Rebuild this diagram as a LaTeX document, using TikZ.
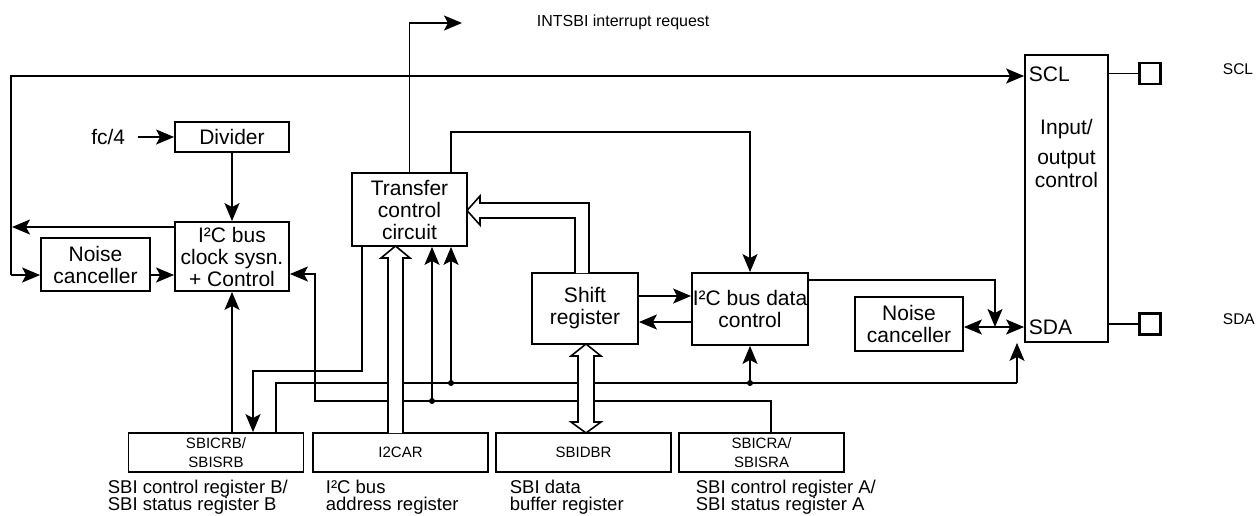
\documentclass[tikz,border=0pt]{standalone}
\usepackage{fontspec}
\setmainfont{Liberation Sans}
\usetikzlibrary{arrows.meta}
\begin{document}
\begin{tikzpicture}[x=1pt,y=-1pt, line width=1.8pt,
  box/.style={draw, rectangle, inner sep=0pt, align=center, font=\fontsize{21}{22}\selectfont},
  plain/.style={inner sep=0pt, align=center, font=\fontsize{21}{22}\selectfont},
  reg/.style={draw, rectangle, inner sep=0pt, align=center, minimum width=175pt, minimum height=39pt, font=\fontsize{15}{19}\selectfont},
  lbl/.style={inner sep=0pt, align=left, anchor=north west, font=\fontsize{18.5}{17.5}\selectfont},
  small/.style={inner sep=0pt, anchor=west, font=\fontsize{15.5}{15.5}\selectfont},
  arr/.style={-{Stealth[length=18pt,width=15pt,inset=4pt]}},
  darr/.style={{Stealth[length=18pt,width=15pt,inset=4pt]}-{Stealth[length=18pt,width=15pt,inset=4pt]}},
  dot/.style={circle, fill, inner sep=0pt, minimum size=6pt},
  hollow/.style={draw, fill=white, line width=1.6pt, line join=miter},
  pad/.style={draw, rectangle, line width=2.6pt, minimum width=21pt, minimum height=21pt, inner sep=0pt}]
\useasboundingbox (0,0) rectangle (1260,515);

% blocks
\node[box, minimum width=114pt, minimum height=30pt] (div) at (232,137) {Divider};
\node[box, minimum width=114pt, minimum height=69pt] (clk) at (232,256.5) {I²C bus\\clock sysn.\\+ Control};
\node[box, minimum width=109pt, minimum height=53pt] (nc1) at (95.5,264.5) {Noise\\canceller};
\node[box, minimum width=115pt, minimum height=73pt] (tcc) at (409.5,209.5) {Transfer\\control\\circuit};
\node[box, minimum width=106pt, minimum height=71pt] (sr) at (585,308.5) {Shift\\register};
\node[box, minimum width=116pt, minimum height=72pt] (dc) at (750,309) {I²C bus data\\control};
\node[box, minimum width=108pt, minimum height=54pt] (nc2) at (909,324) {Noise\\canceller};
\node[draw, rectangle, minimum width=83pt, minimum height=287pt, inner sep=0pt] (io) at (1066.5,198.5) {};
\node[plain, anchor=north, font=\fontsize{21}{23}\selectfont] (iotext) at (1066.5,118) {Input/\\[7pt]output\\control};
\node[plain, anchor=west] (sclin) at (1028,74) {SCL};
\node[plain, anchor=west] (sdain) at (1028,327) {SDA};
\node[pad] (sclpad) at (1150,73.5) {};
\node[pad] (sdapad) at (1150,324) {};
\node[small] (scllbl) at (1222,69) {SCL};
\node[small] (sdalbl) at (1222,319) {SDA};
\node[plain, anchor=east] (fc4) at (126,137) {fc/4};
\node[small, font=\fontsize{16}{16}\selectfont] (intl) at (536,22) {INTSBI interrupt request};

% registers
\node[reg] (sbicrb) at (216,452.5) {SBICRB/\\SBISRB};
\node[reg] (i2car) at (400.5,452.5) {I2CAR};
\node[reg] (sbidbr) at (583.5,452.5) {SBIDBR};
\node[reg, minimum width=165pt] (sbicra) at (761.5,452.5) {SBICRA/\\SBISRA};
\node[lbl] (lb1) at (107,479) {SBI control register B/\\SBI status register B};
\node[lbl] (lb2) at (325,479) {I²C bus\\address register};
\node[lbl] (lb3) at (509,479) {SBI data\\buffer register};
\node[lbl] (lb4) at (695,479) {SBI control register A/\\SBI status register A};

% coordinates
\coordinate (L1) at (11,76);
\coordinate (L2) at (11,275);
\coordinate (cl) at ([yshift=29.5pt]clk.west);
\coordinate (r1) at (315,401);
\coordinate (ra) at ([xshift=9.5pt]sbicra.north);
\coordinate (rb) at ([xshift=60pt]sbicrb.north);
\coordinate (q) at (1017,383);
\coordinate (t1) at ([xshift=-47.5pt]tcc.south);
\coordinate (t2) at (253,371);
\coordinate (t3) at ([xshift=41.5pt]tcc.north);
\coordinate (t4) at (451,132);
\coordinate (int) at (462,23);
\coordinate (s1) at ([yshift=29pt]dc.east);
\coordinate (s2) at (995,327);

% connectors
\draw[arr, shorten <=12pt] (fc4.east) -- (div.west);
\draw[arr] (div.south) -- (clk.north);
\draw[arr] (L2) -- (L1) -- (io.west |- L1);
\draw[arr] (L2) -- (L2 -| nc1.west);
\draw[arr, shorten >=1pt] (cl) -- (cl -| L1);
\draw[arr] (nc1.east |- L2) -- (clk.west |- L2);
\draw[arr] (ra) |- (r1) |- ([yshift=-17.5pt]clk.east);
\draw (rb) |- (q);
\draw[arr] (q) -- (q |- io.south);
\node[dot] (d1) at (432,401) {};
\node[dot] (d2) at (451,383) {};
\node[dot] (d3) at (dc.south |- q) {};
\draw[arr] (d1.center) -- (d1.center |- tcc.south);
\draw[arr] (d2.center) -- (d2.center |- tcc.south);
\draw[arr] (d3.center) -- (dc.south);
\draw[arr] (clk.south |- sbicrb.north) -- (clk.south);
\draw[arr] (t1) |- (t2) -- (t2 |- sbicrb.north);
\draw[arr] (tcc.north) |- (int);
\draw[arr] (t3) -- (t4) -| (dc.north);
\draw[arr] ([yshift=12.5pt]sr.east) -- ([yshift=12.5pt]sr.east -| dc.west);
\draw[arr] ([yshift=-13.5pt]sr.east -| dc.west) -- ([yshift=-13.5pt]sr.east);
\draw[arr] (s1) -| (s2);
\draw[darr] (nc2.east |- s2) -- (io.west |- s2);
\draw (io.east |- sclpad) -- (sclpad.west);
\draw (io.east |- sdapad) -- (sdapad.west);

% hollow bus arrows
\draw[hollow] (589,273) -- (589,203) -- (480,203) -- (480,196) -- (467,210.5) -- (480,225) -- (480,218) -- (575,218) -- (575,273);
\draw[hollow] (388,433) -- (388,258) -- (381,258) -- (395.5,246) -- (410,258) -- (403,258) -- (403,433);
\draw[hollow] (578,356) -- (571,356) -- (586,344) -- (601,356) -- (594,356) -- (594,422) -- (601,422) -- (586,433) -- (571,422) -- (578,422) -- cycle;
\end{tikzpicture}
\end{document}
